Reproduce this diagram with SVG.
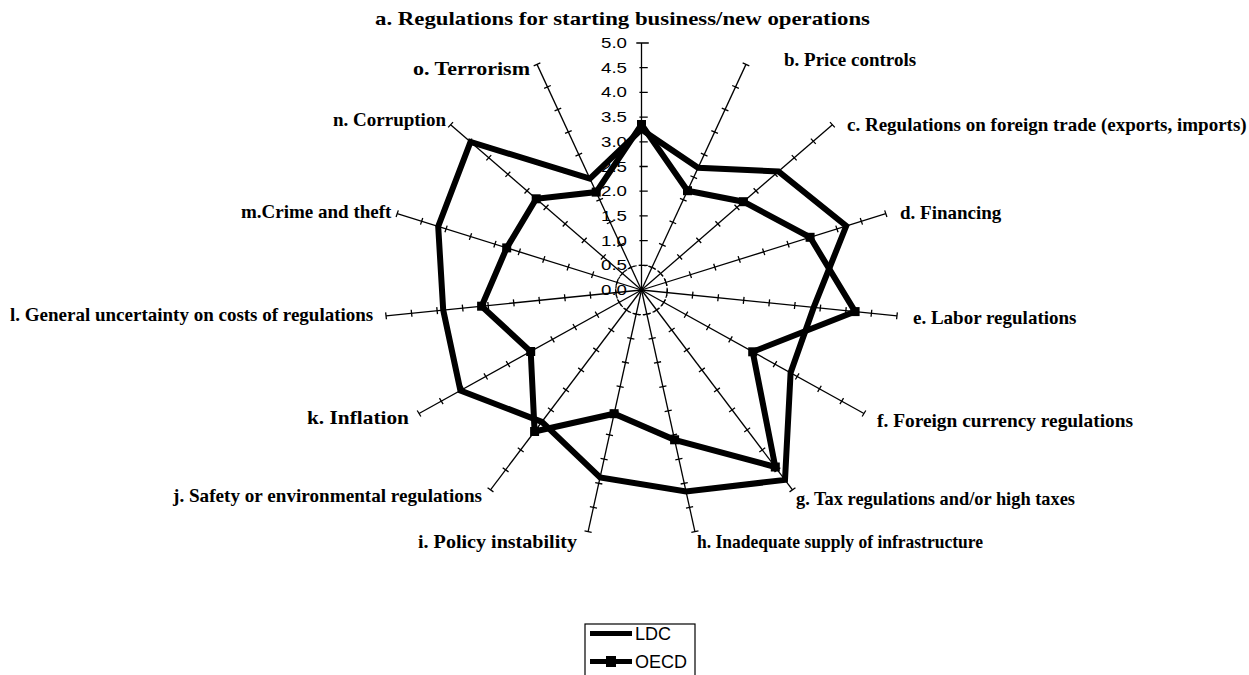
<svg xmlns="http://www.w3.org/2000/svg" xmlns:xlink="http://www.w3.org/1999/xlink" width="1249" height="675" viewBox="0 0 1249 675">
<style>
.ax{stroke:#000;stroke-width:1.3;fill:none}
.ser{stroke:#000;stroke-width:6;fill:none;stroke-linejoin:miter}
.lab{font-family:"Liberation Serif","Times New Roman",serif;font-weight:bold;font-size:19px;fill:#000}
.num{font-family:"Liberation Sans",Arial,sans-serif;font-size:14px;fill:#000;text-anchor:end}
.leg{font-family:"Liberation Sans",Arial,sans-serif;font-size:18px;fill:#000}
</style>
<defs>
<g id="axis">
<line class="ax" x1="0" y1="0" x2="0" y2="-247" vector-effect="non-scaling-stroke"/>
<path class="ax" vector-effect="non-scaling-stroke" d="M-3.5,-24.7h7M-3.5,-49.4h7M-3.5,-74.1h7M-3.5,-98.8h7M-3.5,-123.5h7M-3.5,-148.2h7M-3.5,-172.9h7M-3.5,-197.6h7M-3.5,-222.3h7M-3.5,-247h7"/>
</g>
<rect id="mk" x="-4.5" y="-4.5" width="9" height="9" fill="#000"/>
</defs>
<rect width="1249" height="675" fill="#fff"/>

<g id="axes" transform="translate(641.5,290) scale(1.04,1)">
<line class="ax" x1="0" y1="0" x2="0" y2="-247" vector-effect="non-scaling-stroke"/>
<path class="ax" vector-effect="non-scaling-stroke" d="M-2,-24.7h8M-2,-49.4h8M-2,-74.1h8M-2,-98.8h8M-2,-123.5h8M-2,-148.2h8M-2,-172.9h8M-2,-197.6h8M-2,-222.3h8M-5,-247h12"/>
<use xlink:href="#axis" transform="rotate(24)"/>
<use xlink:href="#axis" transform="rotate(48)"/>
<use xlink:href="#axis" transform="rotate(72)"/>
<use xlink:href="#axis" transform="rotate(96)"/>
<use xlink:href="#axis" transform="rotate(120)"/>
<use xlink:href="#axis" transform="rotate(144)"/>
<use xlink:href="#axis" transform="rotate(168)"/>
<use xlink:href="#axis" transform="rotate(192)"/>
<use xlink:href="#axis" transform="rotate(216)"/>
<use xlink:href="#axis" transform="rotate(240)"/>
<use xlink:href="#axis" transform="rotate(264)"/>
<use xlink:href="#axis" transform="rotate(288)"/>
<use xlink:href="#axis" transform="rotate(312)"/>
<use xlink:href="#axis" transform="rotate(336)"/>
<circle cx="0" cy="0" r="24.7" fill="none" stroke="#000" stroke-width="1.2" stroke-dasharray="3 2" vector-effect="non-scaling-stroke"/>
</g>

<g id="scale">
<text class="num" x="627" y="295" textLength="26" lengthAdjust="spacingAndGlyphs">0.0</text>
<text class="num" x="627" y="270.3" textLength="26" lengthAdjust="spacingAndGlyphs">0.5</text>
<text class="num" x="627" y="245.6" textLength="26" lengthAdjust="spacingAndGlyphs">1.0</text>
<text class="num" x="627" y="220.9" textLength="26" lengthAdjust="spacingAndGlyphs">1.5</text>
<text class="num" x="627" y="196.2" textLength="26" lengthAdjust="spacingAndGlyphs">2.0</text>
<text class="num" x="627" y="171.5" textLength="26" lengthAdjust="spacingAndGlyphs">2.5</text>
<text class="num" x="627" y="146.8" textLength="26" lengthAdjust="spacingAndGlyphs">3.0</text>
<text class="num" x="627" y="122.1" textLength="26" lengthAdjust="spacingAndGlyphs">3.5</text>
<text class="num" x="627" y="97.4" textLength="26" lengthAdjust="spacingAndGlyphs">4.0</text>
<text class="num" x="627" y="72.7" textLength="26" lengthAdjust="spacingAndGlyphs">4.5</text>
<text class="num" x="627" y="48" textLength="26" lengthAdjust="spacingAndGlyphs">5.0</text>
</g>

<g id="connectors">
<polygon id="ldc" class="ser" points="641.5,129.4 698.1,167.7 778.5,171.4 846.2,226 813.7,307.4 790.6,372.7 785,479.9 686,491.5 600.1,477.5 541.9,421.9 460.4,390.5 443.2,310 438.2,226.5 470.5,141.9 589.9,178.6"/>
<polygon id="oecd" class="ser" points="641.5,124.5 687.5,190.7 743.4,201.7 810.1,237.3 855.1,311.6 752.7,351.8 775.3,467 674.6,439.8 614.1,413.7 534.6,431.5 530.7,351.5 481.6,306.2 506.7,247.9 536.2,198.8 596.2,192.1"/>
<g id="oecd-markers">
<use xlink:href="#mk" x="641.5" y="124.5"/><use xlink:href="#mk" x="687.5" y="190.7"/><use xlink:href="#mk" x="743.4" y="201.7"/><use xlink:href="#mk" x="810.1" y="237.3"/><use xlink:href="#mk" x="855.1" y="311.6"/><use xlink:href="#mk" x="752.7" y="351.8"/><use xlink:href="#mk" x="775.3" y="467"/><use xlink:href="#mk" x="674.6" y="439.8"/><use xlink:href="#mk" x="614.1" y="413.7"/><use xlink:href="#mk" x="534.6" y="431.5"/><use xlink:href="#mk" x="530.7" y="351.5"/><use xlink:href="#mk" x="481.6" y="306.2"/><use xlink:href="#mk" x="506.7" y="247.9"/><use xlink:href="#mk" x="536.2" y="198.8"/><use xlink:href="#mk" x="596.2" y="192.1"/>
</g>
</g>

<g id="label-a"><text class="lab" x="375" y="25" textLength="495" lengthAdjust="spacingAndGlyphs">a. Regulations for starting business/new operations</text></g>
<g id="label-b"><text class="lab" x="784" y="66">b. Price controls</text></g>
<g id="label-c"><text class="lab" x="847" y="131">c. Regulations on foreign trade (exports, imports)</text></g>
<g id="label-d"><text class="lab" x="900" y="219">d. Financing</text></g>
<g id="label-e"><text class="lab" x="913" y="324">e. Labor regulations</text></g>
<g id="label-f"><text class="lab" x="877" y="427" textLength="256" lengthAdjust="spacingAndGlyphs">f. Foreign currency regulations</text></g>
<g id="label-g"><text class="lab" x="796" y="505" textLength="279" lengthAdjust="spacingAndGlyphs">g. Tax regulations and/or high taxes</text></g>
<g id="label-h"><text class="lab" x="697" y="548" textLength="286" lengthAdjust="spacingAndGlyphs">h. Inadequate supply of infrastructure</text></g>
<g id="label-i"><text class="lab" x="418" y="548" textLength="159" lengthAdjust="spacingAndGlyphs">i. Policy instability</text></g>
<g id="label-j"><text class="lab" x="173" y="502" textLength="309" lengthAdjust="spacingAndGlyphs">j. Safety or environmental regulations</text></g>
<g id="label-k"><text class="lab" x="307" y="424" textLength="102" lengthAdjust="spacingAndGlyphs">k. Inflation</text></g>
<g id="label-l"><text class="lab" x="10" y="321">l. General uncertainty on costs of regulations</text></g>
<g id="label-m"><text class="lab" x="241" y="218">m.Crime and theft</text></g>
<g id="label-n"><text class="lab" x="333" y="126">n. Corruption</text></g>
<g id="label-o"><text class="lab" x="413" y="75" textLength="117" lengthAdjust="spacingAndGlyphs">o. Terrorism</text></g>

<g id="legend">
<rect x="585" y="624" width="110" height="60" fill="#fff" stroke="#000" stroke-width="1.2"/>
<line x1="590" y1="633.5" x2="632" y2="633.5" stroke="#000" stroke-width="5"/>
<text class="leg" x="635" y="640">LDC</text>
<line x1="590" y1="661.5" x2="632" y2="661.5" stroke="#000" stroke-width="5"/>
<rect x="606" y="656" width="10" height="11" fill="#000"/>
<text class="leg" x="635" y="668">OECD</text>
</g>
</svg>
